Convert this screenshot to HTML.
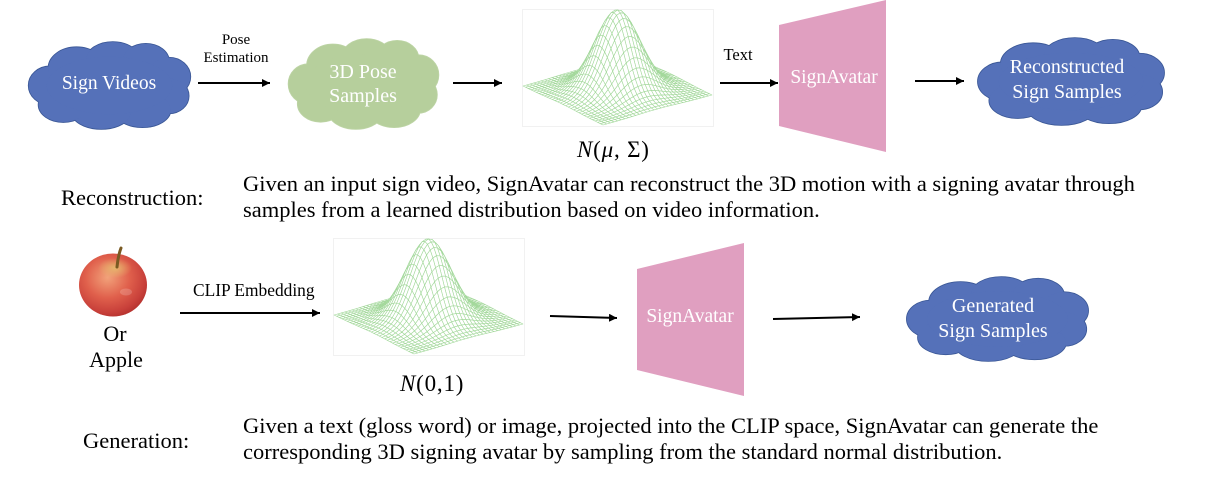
<!DOCTYPE html>
<html>
<head>
<meta charset="utf-8">
<style>
  html,body{margin:0;padding:0;background:#fff;}
  body{width:1214px;height:488px;overflow:hidden;}
  svg{display:block;}
  text{font-family:"Liberation Serif","Times New Roman",serif;}
</style>
</head>
<body>
<svg id="s" width="1214" height="488" viewBox="0 0 1214 488" xmlns="http://www.w3.org/2000/svg">
  <defs>
    <marker id="ah" markerWidth="9" markerHeight="9" refX="8" refY="4" orient="auto" markerUnits="userSpaceOnUse">
      <path d="M0,0 L8,4 L0,8 z" fill="#000"/>
    </marker>
    <radialGradient id="ag" cx="0.42" cy="0.38" r="0.65">
      <stop offset="0" stop-color="#f2a27a"/>
      <stop offset="0.5" stop-color="#e0604c"/>
      <stop offset="0.85" stop-color="#c8403a"/>
      <stop offset="1" stop-color="#b5322e"/>
    </radialGradient>
    <radialGradient id="ay" cx="0.5" cy="0.5" r="0.5">
      <stop offset="0" stop-color="#e6c070" stop-opacity="0.85"/>
      <stop offset="1" stop-color="#e6c070" stop-opacity="0"/>
    </radialGradient>
  </defs>

  <!-- faint image boxes for gaussians -->
  <rect x="522.5" y="9.5" width="191" height="117" fill="#fff" stroke="#f1f1f1" stroke-width="1"/>
  <rect x="333.5" y="238.5" width="191" height="117" fill="#fff" stroke="#f1f1f1" stroke-width="1"/>

  <g id="shapes"></g>

  <!-- Trapezoids -->
  <polygon points="779,25 886,0 886,152 779,126" fill="#e09fc0"/>
  <polygon points="637,269 744,243 744,396 637,370" fill="#e09fc0"/>

  <!-- Apple -->
  <ellipse cx="113" cy="285" rx="34" ry="31.5" fill="url(#ag)"/>
  <ellipse cx="115" cy="268" rx="17" ry="10" fill="url(#ay)"/>
  <ellipse cx="126" cy="292" rx="6" ry="3.5" fill="#fff" opacity="0.18"/>
  <path d="M117,267 Q118,256 121,248" stroke="#7a5a22" stroke-width="3" fill="none" stroke-linecap="round"/>

  <!-- Arrows -->
  <g stroke="#000" stroke-width="2" fill="none">
    <line x1="198" y1="83" x2="270" y2="83" marker-end="url(#ah)"/>
    <line x1="453" y1="83" x2="502" y2="83" marker-end="url(#ah)"/>
    <line x1="720" y1="83" x2="778" y2="83" marker-end="url(#ah)"/>
    <line x1="915" y1="81" x2="964" y2="81" marker-end="url(#ah)"/>
    <line x1="180" y1="313" x2="320" y2="313" marker-end="url(#ah)"/>
    <line x1="550" y1="316" x2="617" y2="318" marker-end="url(#ah)"/>
    <line x1="773" y1="319" x2="860" y2="317" marker-end="url(#ah)"/>
  </g>

  <!-- Cloud / shape labels -->
  <g fill="#fff" text-anchor="middle">
    <text x="109" y="89" font-size="19.5">Sign Videos</text>
    <text x="363" y="78" font-size="20">3D Pose</text>
    <text x="363" y="102" font-size="20">Samples</text>
    <text x="834" y="83" font-size="19.5">SignAvatar</text>
    <text x="1067" y="73" font-size="20">Reconstructed</text>
    <text x="1067" y="98" font-size="20">Sign Samples</text>
    <text x="690" y="322" font-size="19.5">SignAvatar</text>
    <text x="993" y="312" font-size="20">Generated</text>
    <text x="993" y="337" font-size="20">Sign Samples</text>
  </g>

  <!-- Black labels -->
  <g fill="#000">
    <text x="236" y="44" font-size="15" text-anchor="middle">Pose</text>
    <text x="236" y="62" font-size="15" text-anchor="middle">Estimation</text>
    <text x="738" y="60" font-size="16.5" text-anchor="middle">Text</text>
    <text x="193" y="296" font-size="17.4">CLIP Embedding</text>
    <text x="115" y="341" font-size="22" text-anchor="middle">Or</text>
    <text x="116" y="367" font-size="22" text-anchor="middle">Apple</text>

    <text x="577" y="157" font-size="23" letter-spacing="0.8"><tspan font-style="italic">N</tspan>(<tspan font-style="italic">μ</tspan>, Σ)</text>
    <text x="400" y="391" font-size="23" letter-spacing="0.8"><tspan font-style="italic">N</tspan>(0,1)</text>

    <text x="61" y="205" font-size="22.5">Reconstruction:</text>
    <text x="243" y="191" font-size="22.5">Given an input sign video, SignAvatar can reconstruct the 3D motion with a signing avatar through</text>
    <text x="243" y="217" font-size="22.5">samples from a learned distribution based on video information.</text>

    <text x="83" y="448" font-size="22.5">Generation:</text>
    <text x="243" y="433" font-size="22.5">Given a text (gloss word) or image, projected into the CLIP space, SignAvatar can generate the</text>
    <text x="243" y="459" font-size="22.5">corresponding 3D signing avatar by sampling from the standard normal distribution.</text>
  </g>
</svg>

<script>
(function(){
  var NS = 'http://www.w3.org/2000/svg';
  var root = document.getElementById('shapes');
  function el(tag, attrs, parent){
    var e = document.createElementNS(NS, tag);
    for (var k in attrs) e.setAttribute(k, attrs[k]);
    (parent || root).appendChild(e);
    return e;
  }

  // Clouds
  var lobes = [
    [.14,.50,.13,.22],[.30,.30,.17,.24],[.52,.20,.16,.20],[.72,.22,.14,.20],
    [.86,.40,.13,.22],[.86,.62,.12,.20],[.70,.78,.17,.20],[.45,.80,.18,.20],
    [.22,.72,.15,.20],[.5,.5,.38,.33]
  ];
  function cloud(x, y, w, h, fill, stroke){
    var g = el('g', {});
    var i, l;
    for (i = 0; i < lobes.length; i++){
      l = lobes[i];
      el('ellipse', {cx:x+l[0]*w, cy:y+l[1]*h, rx:l[2]*w, ry:l[3]*h, fill:fill, stroke:stroke, 'stroke-width':1.6}, g);
    }
    for (i = 0; i < lobes.length; i++){
      l = lobes[i];
      el('ellipse', {cx:x+l[0]*w, cy:y+l[1]*h, rx:l[2]*w, ry:l[3]*h, fill:fill, stroke:'none'}, g);
    }
  }
  cloud(27, 42, 165, 87, '#5571b9', '#3a5796');
  cloud(287, 39, 153, 90, '#b6cf9c', '#bdd4a5');
  cloud(976, 38, 190, 87, '#5571b9', '#3a5796');
  cloud(905, 277, 185, 84, '#5571b9', '#3a5796');

  // Gaussian wireframes
  function gauss(ox, oy){
    var g = el('g', {});
    var L = [523+ox, 86+oy], eu = [80, 39], ev = [109, -30], H = 80.5, s = 0.17, N = 30;
    function P(u, v){
      var z = H*Math.exp(-((u-.5)*(u-.5)+(v-.5)*(v-.5))/(2*s*s));
      return [L[0]+u*eu[0]+v*ev[0], L[1]+u*eu[1]+v*ev[1]-z];
    }
    var quads = [], i, j;
    for (i = 0; i < N; i++) for (j = 0; j < N; j++) quads.push([i, j]);
    quads.sort(function(a, b){ return (a[0]-a[1]) - (b[0]-b[1]); });
    for (var q = 0; q < quads.length; q++){
      i = quads[q][0]; j = quads[q][1];
      var a = P(i/N, j/N), b = P((i+1)/N, j/N), c = P((i+1)/N, (j+1)/N), d = P(i/N, (j+1)/N);
      var dstr = 'M'+a[0].toFixed(2)+','+a[1].toFixed(2)+'L'+b[0].toFixed(2)+','+b[1].toFixed(2)+
                 'L'+c[0].toFixed(2)+','+c[1].toFixed(2)+'L'+d[0].toFixed(2)+','+d[1].toFixed(2)+'Z';
      el('path', {d:dstr, fill:'#fff', stroke:'#a3d89b', 'stroke-width':0.6, 'stroke-linejoin':'round'}, g);
    }
  }
  gauss(0, 0);
  gauss(-189, 229);
})();
</script>
</body>
</html>
